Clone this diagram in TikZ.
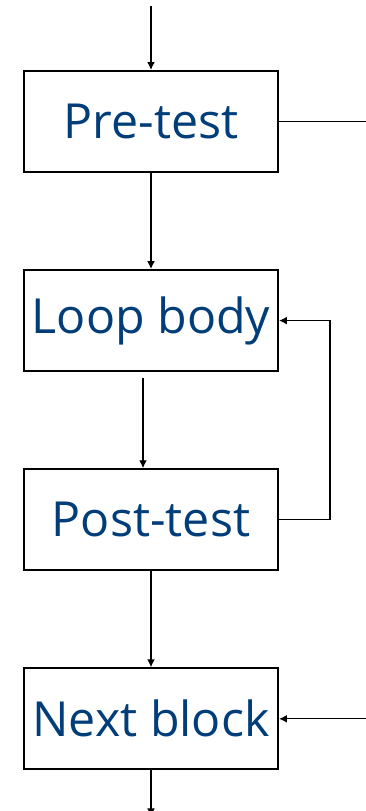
\documentclass[tikz,border=0pt]{standalone}
\usepackage{fontspec}
\setmainfont{Open Sans}
\usepackage{xcolor}
\usetikzlibrary{arrows.meta}
\usetikzlibrary{positioning}
\definecolor{myblue}{RGB}{0,61,121}

\tikzset{
  block/.style={draw, line width=1.2pt, minimum width=5.08cm, minimum height=2.02cm,
    inner sep=0pt, text=myblue, font=\fontsize{27.5}{32}\selectfont},
  flow/.style={line width=0.75pt, -{Latex[length=4.5pt,width=4.5pt]}},
  plain/.style={line width=0.75pt}
}

\begin{document}
\begin{tikzpicture}
\useasboundingbox (0,0) rectangle (7.3,-16.22);

\node[block] (pre) at (3.02,-2.43) {Pre-test};
\node[block, below=1.92cm of pre] (body) {Loop body};
\node[block, below=1.92cm of body] (post) {Post-test};
\node[block, below=1.92cm of post] (next) {Next block};

\coordinate (in) at (3.02,-0.12);
\coordinate[right=1.74cm of pre.east] (exit);
\coordinate[right=1.74cm of next.east] (enter);
\coordinate[below=0.92cm of next.south] (out);

\draw[flow] (in) -- (pre.north);
\draw[plain] (pre.east) -- (exit);
\draw[flow] (pre.south) -- (body.north);
\draw[flow] ([xshift=-0.16cm,yshift=-0.12cm]body.south) -- ([xshift=-0.16cm]post.north);
\draw[flow] (post.east) -- ++(1.02,0) |- (body.east);
\draw[flow] (post.south) -- (next.north);
\draw[flow] (enter) -- (next.east);
\draw[flow] (next.south) -- (out);
\end{tikzpicture}
\end{document}
